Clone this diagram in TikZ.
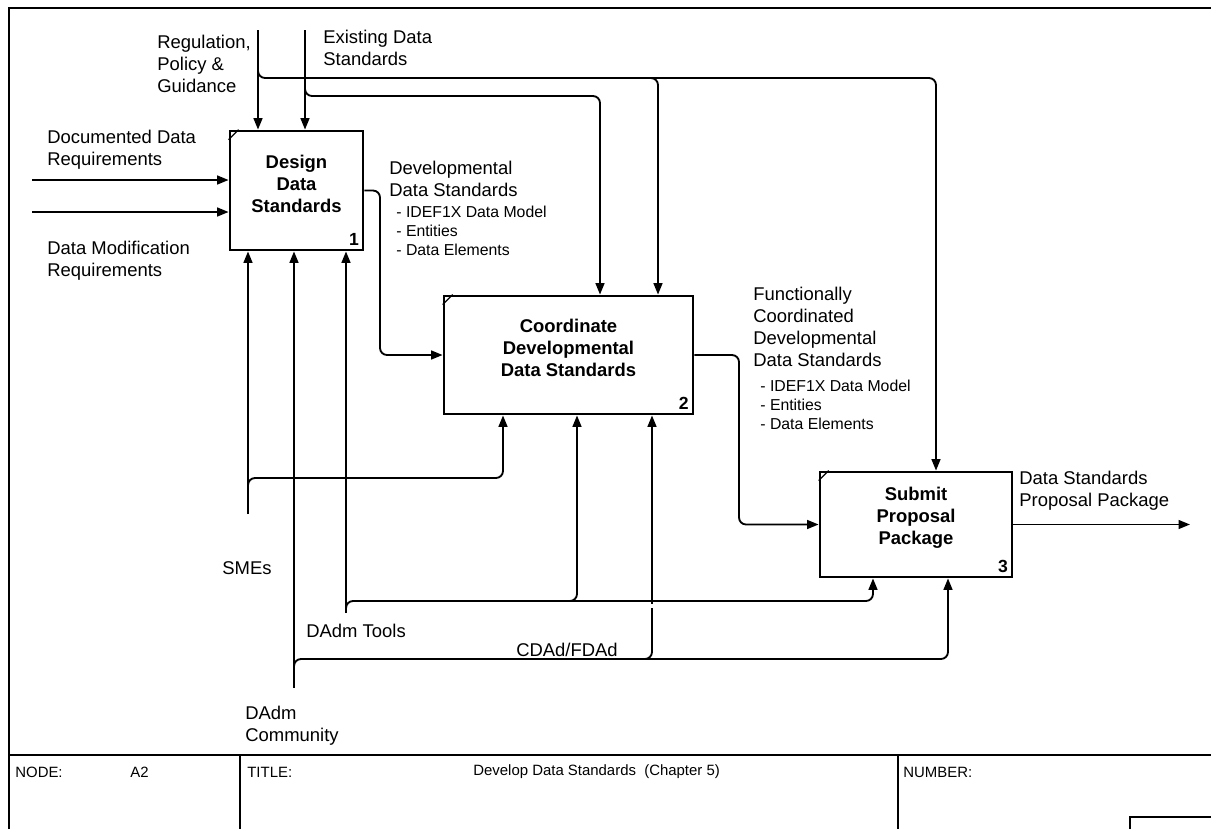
\documentclass[tikz,border=0pt]{standalone}
\usepackage{fontspec}
\setmainfont{Liberation Sans}
\usetikzlibrary{arrows.meta}

\begin{document}
\begin{tikzpicture}[x=0.02cm, y=-0.02cm, >={Triangle[length=6.5pt, width=5pt]}, font=\fontsize{10.5}{12.5}\selectfont]
    \tikzstyle{box}=[rectangle, draw, line width=1.6pt, inner sep=0pt]
    \tikzstyle{boxtitle}=[align=center, font=\fontsize{10.5}{12.5}\selectfont\bfseries]
    \tikzstyle{boxnum}=[anchor=south east, inner sep=3pt, font=\fontsize{10}{12}\selectfont\bfseries]
    \tikzstyle{flow}=[->, line width=1.05pt, rounded corners=4pt]
    \tikzstyle{tag}=[anchor=north west, align=left, inner sep=0pt]
    \tikzstyle{sublist}=[tag, font=\fontsize{9}{10.8}\selectfont]
    \tikzstyle{foot}=[anchor=west, inner sep=0pt, font=\fontsize{8.5}{10}\selectfont]

    \useasboundingbox (0,0) rectangle (1211,829);

    % frame and title block
    \draw[line width=1.1pt] (9,829) -- (9,8) -- (1211,8);
    \draw[line width=1.1pt] (9,755) -- (1211,755);
    \draw[line width=0.8pt] (240,755) -- (240,829);
    \draw[line width=0.8pt] (898,755) -- (898,829);
    \draw[line width=0.8pt] (1130,829) |- (1211,817);

    % activities
    \node[box, minimum width=2.66cm, minimum height=2.38cm, label={[boxnum]south east:1}] (design) at (296.5,190.5) {};
    \node[box, minimum width=4.98cm, minimum height=2.36cm, label={[boxnum]south east:2}] (coord) at (568.5,355) {};
    \node[box, minimum width=3.84cm, minimum height=2.10cm, label={[boxnum]south east:3}] (submit) at (916,524.5) {};
    \node[boxtitle] (designT) at ([yshift=4pt]design.center) {Design\\Data\\Standards};
    \node[boxtitle] (coordT) at ([yshift=4pt]coord.center) {Coordinate\\Developmental\\Data Standards};
    \node[boxtitle] (submitT) at ([yshift=4pt]submit.center) {Submit\\Proposal\\Package};
    \foreach \b in {design, coord, submit}
        \draw[line width=0.7pt] (\b.north west) ++(0,10) -- ++(10,-10);

    % free ends and taps
    \coordinate (regSrc) at (258,30);
    \coordinate (stdSrc) at (305,30);
    \coordinate (docSrc) at (32,180);
    \coordinate (modSrc) at (32,212);
    \coordinate (smeSrc) at (248,514);
    \coordinate (toolSrc) at (346,613);
    \coordinate (commSrc) at (294,688);
    \coordinate (pkgEnd) at (1190,524.5);
    \coordinate (regTap) at (258,70);
    \coordinate (regCorner) at (936,78);
    \coordinate (regTap2) at (650,78);
    \coordinate (regCol) at (658,78);
    \coordinate (stdTap) at (305,88);
    \coordinate (stdCorner) at (600,96);
    \coordinate (dsgOut) at (380,355);
    \coordinate (crdOut) at (739,524.5);
    \coordinate (smeTap) at (248,486);
    \coordinate (smeCorner) at (503,478);
    \coordinate (toolTap) at (346,609);
    \coordinate (toolCorner) at (873,601);
    \coordinate (toolTap2) at (569,601);
    \coordinate (toolCol) at (577,601);
    \coordinate (commTap) at (294,667);
    \coordinate (commCorner) at (948,659);
    \coordinate (commTap2) at (644,659);
    \coordinate (commCol) at (652,659);

    % controls
    \draw[flow] (regSrc) -- (regSrc |- design.north);
    \draw[flow] (stdSrc) -- (stdSrc |- design.north);
    \draw[flow] (regTap) |- (regCorner) -- (regCorner |- submit.north);
    \draw[flow] (regTap2) -| (regCol |- coord.north);
    \draw[flow] (stdTap) |- (stdCorner) -- (stdCorner |- coord.north);

    % inputs and outputs
    \draw[flow] (docSrc) -- (docSrc -| design.west);
    \draw[flow] (modSrc) -- (modSrc -| design.west);
    \draw[flow] (design.east) -| (dsgOut) -- (coord.west);
    \draw[flow] (coord.east) -| (crdOut) -- (submit.west);
    \draw[flow] (submit.east) -- (pkgEnd);

    % mechanisms
    \draw[flow] (smeSrc) -- (smeSrc |- design.south);
    \draw[flow] (commSrc) -- (commSrc |- design.south);
    \draw[flow] (toolSrc) -- (toolSrc |- design.south);
    \draw[flow] (smeTap) |- (smeCorner) -- (smeCorner |- coord.south);
    \draw[flow] (toolTap) |- (toolCorner) -- (toolCorner |- submit.south);
    \draw[flow] (toolTap2) -| (toolCol |- coord.south);
    \draw[flow] (commTap) |- (commCorner) -- (commCorner |- submit.south);
    \draw[flow] (commTap2) -| (commCol |- coord.south);
    % break where CDAd/FDAd passes under the tools line
    \fill[white] (648,603.5) rectangle (656,608);

    % arrow labels
    \node[tag] (regLbl) at (157,35) {Regulation,\\Policy \&\\Guidance};
    \node[tag] (stdLbl) at (323,30) {Existing Data\\Standards};
    \node[tag] (docLbl) at (47,130) {Documented Data\\Requirements};
    \node[tag] (modLbl) at (47,241) {Data Modification\\Requirements};
    \node[tag] (devLbl) at (389,161) {Developmental\\Data Standards};
    \node[sublist] (devList) at (396,206) {- IDEF1X Data Model\\- Entities\\- Data Elements};
    \node[tag] (funcLbl) at (753,287) {Functionally\\Coordinated\\Developmental\\Data Standards};
    \node[sublist] (funcList) at (760,380) {- IDEF1X Data Model\\- Entities\\- Data Elements};
    \node[tag] (pkgLbl) at (1019,471) {Data Standards\\Proposal Package};
    \node[tag] (smeLbl) at (222,561) {SMEs};
    \node[tag] (toolLbl) at (306,624) {DAdm Tools};
    \node[tag] (commLbl) at (245,706) {DAdm\\Community};
    \node[inner sep=0pt] (cdadLbl) at (567,650) {CDAd/FDAd};

    % title block texts
    \node[foot] (nodeLbl) at (15,772) {NODE:};
    \node[foot] (nodeId) at (130,772) {A2};
    \node[foot] (titleLbl) at (247,772) {TITLE:};
    \node[foot] (titleTxt) at (473,772) {Develop Data Standards\ \ (Chapter 5)};
    \node[foot] (numberLbl) at (903,772) {NUMBER:};
\end{tikzpicture}
\end{document}
